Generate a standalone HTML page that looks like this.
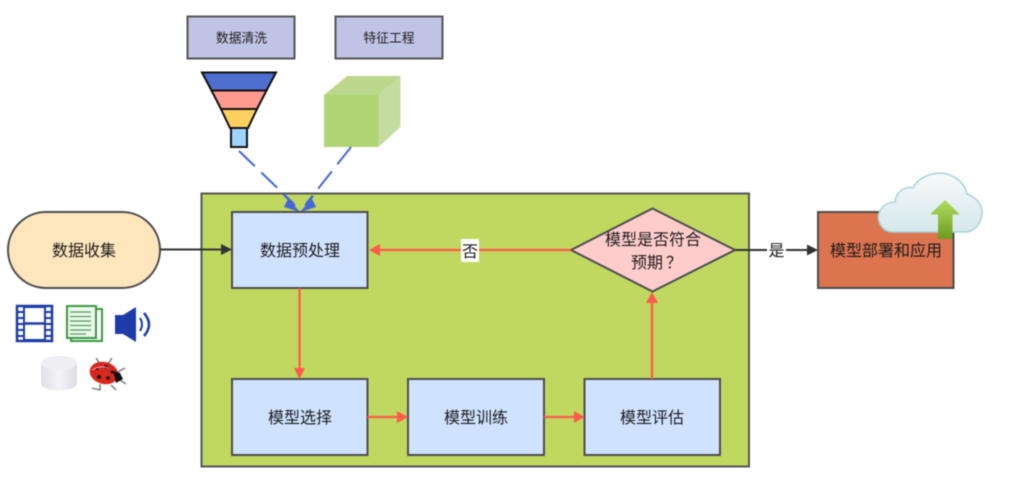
<!DOCTYPE html>
<html lang="zh">
<head>
<meta charset="utf-8">
<style>
html,body{margin:0;padding:0;background:#fff;width:1009px;height:494px;overflow:hidden}
svg{display:block;filter:blur(.55px)}
text{font-family:"Liberation Sans","Noto Sans CJK SC",sans-serif;fill:#1c1c1c;text-anchor:middle;font-size:16px}
.b{fill:#cfe2ff;stroke:#4d4d4d;stroke-width:2}
.s{fill:#c0c4e4;stroke:#555;stroke-width:2}
</style>
</head>
<body>
<svg width="1009" height="494" viewBox="0 0 1009 494" xmlns="http://www.w3.org/2000/svg">
<defs>
<linearGradient id="cl" x1="0" y1="0" x2="0" y2="1"><stop offset="0" stop-color="#f6fafa"/><stop offset="1" stop-color="#d6e8ec"/></linearGradient>
<linearGradient id="ar" x1="0" y1="0" x2="0" y2="1"><stop offset="0" stop-color="#b4dc60"/><stop offset="1" stop-color="#6c9c20"/></linearGradient>
<linearGradient id="cy" x1="0" y1="0" x2="1" y2="0"><stop offset="0" stop-color="#dfe0e6"/><stop offset=".5" stop-color="#f4f4f8"/><stop offset="1" stop-color="#dcdde3"/></linearGradient>
</defs>

<!-- top boxes -->
<rect class="s" x="187.500" y="16.500" width="107" height="42"/>
<text x="241.500" y="42.500" style="font-size:12.800px">数据清洗</text>
<rect class="s" x="335.500" y="16.500" width="107" height="42"/>
<text x="389" y="42.500" style="font-size:12.800px">特征工程</text>

<!-- funnel -->
<polygon points="202,72.500 276,72.500 266.500,90.500 211.500,90.500" fill="#4f6fd0" stroke="#111" stroke-width="2"/>
<polygon points="211.500,90.500 266.500,90.500 257,109 221,109" fill="#ff9a90" stroke="#111" stroke-width="2"/>
<polygon points="221,109 257,109 248,128 230,128" fill="#ffd060" stroke="#111" stroke-width="2"/>
<rect x="231" y="128" width="16" height="19" fill="#a0d4ff" stroke="#111" stroke-width="2"/>

<!-- cube -->
<polygon points="324,95 347,76 400.500,76 378.500,95" fill="#bcd78c"/>
<polygon points="378.500,95 400.500,76 400.500,127 378.500,147" fill="#c4dca0"/>
<rect x="324" y="95" width="54.500" height="52" fill="#b0d474"/>

<!-- container -->
<rect x="201.500" y="193.500" width="547.500" height="273" fill="#c0d860" stroke="#555" stroke-width="2"/>

<!-- dashed blue connectors -->
<line x1="239" y1="151" x2="294" y2="204" stroke="#4466d8" stroke-width="2" stroke-dasharray="22 9"/>
<line x1="351" y1="147" x2="306" y2="204" stroke="#4466d8" stroke-width="2" stroke-dasharray="22 9"/>
<line x1="283" y1="194" x2="295" y2="206" stroke="#4466d8" stroke-width="2"/>
<line x1="313" y1="196" x2="305" y2="206" stroke="#4466d8" stroke-width="2"/>
<polygon points="288,199 300,212 284,207" fill="#4466d8"/>
<polygon points="312,199 300,212 316,207" fill="#4466d8"/>

<!-- process boxes -->
<rect class="b" x="232" y="212" width="135.500" height="76"/>
<text x="300" y="256">数据预处理</text>
<rect class="b" x="232" y="379" width="135.500" height="76"/>
<text x="300" y="423">模型选择</text>
<rect class="b" x="408" y="379" width="136" height="76"/>
<text x="476" y="423">模型训练</text>
<rect class="b" x="584.500" y="379" width="135.500" height="76"/>
<text x="652" y="423">模型评估</text>

<!-- diamond -->
<polygon points="571,250 652.500,208.500 735,250 652.500,291.500" fill="#ffcccc" stroke="#4d4d4d" stroke-width="2"/>
<text x="653" y="245">模型是否符合</text>
<text x="631" y="268" style='font-family:"Noto Sans CJK SC",sans-serif;text-anchor:start'>预期<tspan dx="3">？</tspan></text>

<!-- red connectors -->
<g stroke="#ff5a4a" stroke-width="2.200" fill="#ff5a4a">
<line x1="571" y1="250" x2="378" y2="250"/>
<polygon points="369,250 380,244 380,256" stroke="none"/>
<line x1="299.500" y1="288" x2="299.500" y2="370"/>
<polygon points="299.500,379 294,368 305,368" stroke="none"/>
<line x1="367.500" y1="417" x2="398" y2="417"/>
<polygon points="408,417 397,411 397,423" stroke="none"/>
<line x1="544" y1="417" x2="575" y2="417"/>
<polygon points="584.500,417 574,411 574,423" stroke="none"/>
<line x1="652" y1="379" x2="652" y2="302"/>
<polygon points="652,292 646,303 658,303" stroke="none"/>
</g>
<rect x="461" y="239" width="18" height="23" fill="#fff"/>
<text x="470" y="257">否</text>

<!-- pill -->
<rect x="8" y="212" width="152" height="76" rx="38" ry="38" fill="#ffe6bd" stroke="#4d4d4d" stroke-width="2"/>
<text x="84" y="256">数据收集</text>
<line x1="160" y1="249.500" x2="224" y2="249.500" stroke="#333" stroke-width="2"/>
<polygon points="232,249.500 221,244 221,255" fill="#333"/>

<!-- output -->
<rect x="818" y="212" width="135.500" height="76" fill="#dc7450" stroke="#4d4d4d" stroke-width="2"/>
<text x="886" y="256">模型部署和应用</text>
<line x1="735" y1="250" x2="810" y2="250" stroke="#333" stroke-width="2"/>
<polygon points="818,250 807,244.500 807,255.500" fill="#333"/>
<rect x="767" y="240" width="19" height="21" fill="#fff"/>
<text x="776.500" y="256">是</text>

<!-- cloud -->
<path d="M893,232 C881,232 877,220 879,213 C882,205 889,202 895,202 C896,191 906,186 913,188 C918,177 934,171 947,174 C958,177 966,186 967,194 C976,197 983,205 982,214 C981,224 974,232 965,232 Z" fill="url(#cl)" stroke="#a8d4d8" stroke-width="1.500"/>
<polygon points="945,200 960,214.500 952.500,214.500 952.500,239 938,239 938,214.500 930,214.500" fill="url(#ar)"/>

<!-- film icon -->
<g fill="none" stroke="#1e3ca8" stroke-width="2.500">
<rect x="17" y="306" width="35" height="35"/>
<rect x="24" y="307" width="21" height="33" stroke-width="2"/>
<line x1="24" y1="323.500" x2="45" y2="323.500"/>
</g>
<g stroke="#1e3ca8" stroke-width="2">
<line x1="17" y1="312" x2="24" y2="312"/><line x1="17" y1="318" x2="24" y2="318"/><line x1="17" y1="324" x2="24" y2="324"/><line x1="17" y1="330" x2="24" y2="330"/><line x1="17" y1="336" x2="24" y2="336"/>
<line x1="45" y1="312" x2="52" y2="312"/><line x1="45" y1="318" x2="52" y2="318"/><line x1="45" y1="324" x2="52" y2="324"/><line x1="45" y1="330" x2="52" y2="330"/><line x1="45" y1="336" x2="52" y2="336"/>
</g>

<!-- document icon -->
<rect x="71" y="309" width="31" height="32" fill="#fff" stroke="#3a9a40" stroke-width="2"/>
<rect x="67" y="306" width="29" height="32" fill="#eef6ee" stroke="#3a9a40" stroke-width="2"/>
<g stroke="#4aa050" stroke-width="1.200">
<line x1="70" y1="312" x2="91" y2="312"/><line x1="70" y1="316.500" x2="91" y2="316.500"/><line x1="70" y1="321" x2="91" y2="321"/><line x1="70" y1="325.500" x2="91" y2="325.500"/><line x1="70" y1="330" x2="91" y2="330"/><line x1="70" y1="334" x2="86" y2="334"/>
</g>

<!-- speaker icon -->
<rect x="115" y="315" width="8" height="19" fill="#1e3ca8"/>
<polygon points="123,315 136,307 136,342 123,334" fill="#1e3ca8"/>
<path d="M140,318 Q144,324.500 140,331" fill="none" stroke="#1e3ca8" stroke-width="2"/>
<path d="M144,313 Q154,324.500 144,336" fill="none" stroke="#1e3ca8" stroke-width="2.500"/>

<!-- cylinder -->
<path d="M41,363 V383 C41,393 77,393 77,383 V363 Z" fill="url(#cy)"/>
<ellipse cx="59" cy="363" rx="18" ry="7" fill="#eeeef3"/>

<!-- ladybug -->
<g stroke="#777" stroke-width="1.400" fill="none">
<path d="M100,364 L96,358"/><path d="M108,364 L112,358"/><path d="M118,372 L125,368"/><path d="M120,380 L126,384"/><path d="M111,385 L116,390"/><path d="M100,384 L100,390 L92,388"/>
</g>
<ellipse cx="104" cy="373" rx="14.500" ry="11" transform="rotate(15 104 373)" fill="#d8281e"/>
<polygon points="113,371 120,373 123,379 116,383" fill="#111"/>
<g fill="#111">
<circle cx="106" cy="367" r="1.800"/><circle cx="99" cy="377" r="2"/><circle cx="108" cy="378" r="1.800"/><circle cx="112" cy="372" r="1.500"/><circle cx="97" cy="369" r="1.200"/>
</g>
<path d="M92,370 Q100,365 108,368" fill="none" stroke="#f4a0a0" stroke-width="1"/>
</svg>
</body>
</html>
